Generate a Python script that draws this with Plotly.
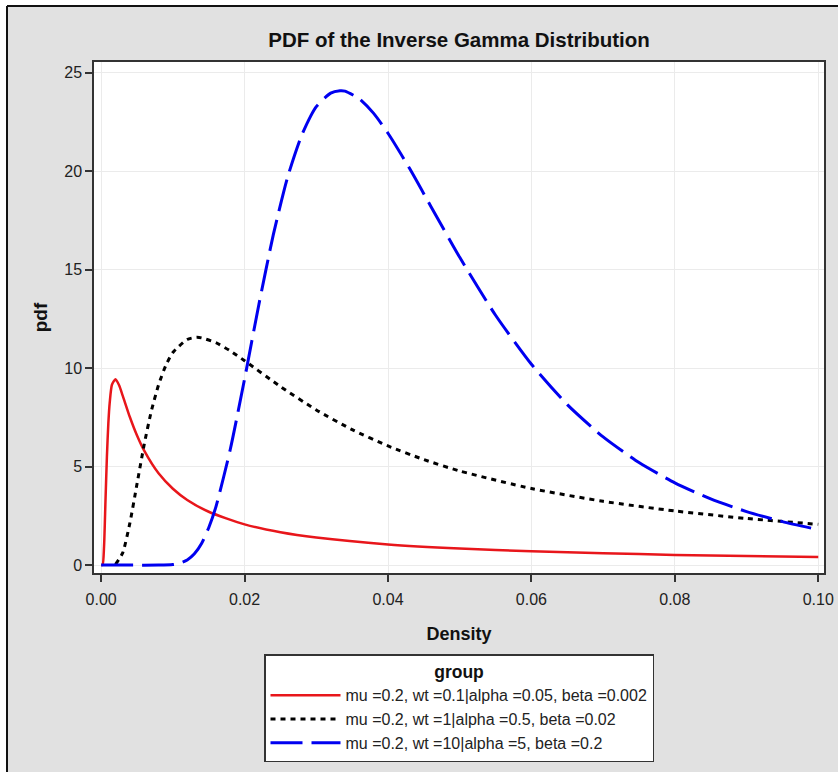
import plotly.graph_objects as go

# ---- data ----
red_x = [0.0, 0.0002, 0.0004, 0.0006, 0.0008, 0.001, 0.0012, 0.0015, 0.002, 0.0025,
         0.003, 0.004, 0.005, 0.006, 0.008, 0.010, 0.012, 0.015, 0.020, 0.025,
         0.030, 0.040, 0.050, 0.060, 0.070, 0.080, 0.090, 0.100]
red_y = [0.0, 0.013, 0.94, 3.24, 5.52, 7.20, 8.29, 9.16, 9.44, 9.13,
         8.61, 7.52, 6.58, 5.81, 4.66, 3.88, 3.31, 2.71, 2.07, 1.67,
         1.40, 1.05, 0.84, 0.70, 0.60, 0.52, 0.46, 0.41]

black_x = [0.002, 0.003, 0.004, 0.005, 0.006, 0.007, 0.008, 0.009, 0.010, 0.012,
           0.0133, 0.014, 0.016, 0.018, 0.020, 0.025, 0.030, 0.035, 0.040, 0.045,
           0.050, 0.060, 0.070, 0.080, 0.090, 0.100]
black_y = [0.04, 0.62, 2.13, 4.13, 6.13, 7.83, 9.15, 10.13, 10.80, 11.46,
           11.57, 11.54, 11.30, 10.88, 10.38, 9.07, 7.88, 6.88, 6.05, 5.36,
           4.78, 3.89, 3.24, 2.75, 2.37, 2.07]

blue_x = [0.0, 0.004, 0.008, 0.010, 0.011, 0.012, 0.013, 0.014, 0.015, 0.016,
          0.018, 0.020, 0.022, 0.024, 0.026, 0.028, 0.030, 0.032, 0.0333, 0.034,
          0.036, 0.038, 0.040, 0.043, 0.046, 0.050, 0.055, 0.060, 0.065, 0.070,
          0.075, 0.080, 0.085, 0.090, 0.095, 0.100]
blue_y = [0.0, 0.0, 0.001, 0.027, 0.096, 0.257, 0.573, 1.10, 1.90, 2.96,
          5.87, 9.46, 13.25, 16.77, 19.70, 21.86, 23.28, 23.97, 24.09, 24.07,
          23.68, 22.94, 21.93, 20.15, 18.20, 15.63, 12.69, 10.20, 8.15, 6.51,
          5.21, 4.18, 3.36, 2.72, 2.21, 1.80]

labels = ["mu =0.2, wt =0.1|alpha =0.05, beta =0.002",
          "mu =0.2, wt =1|alpha =0.5, beta =0.02",
          "mu =0.2, wt =10|alpha =5, beta =0.2"]

x_ticks = [0.0, 0.02, 0.04, 0.06, 0.08, 0.10]
x_ticktext = ["0.00", "0.02", "0.04", "0.06", "0.08", "0.10"]
y_ticks = [0, 5, 10, 15, 20, 25]

FONT = "Liberation Sans, Arial, sans-serif"

fig = go.Figure()
fig.add_trace(go.Scatter(x=red_x, y=red_y, mode="lines", name=labels[0],
                         line=dict(color="#e8161b", width=2.5, shape="spline", smoothing=0.6)))
fig.add_trace(go.Scatter(x=black_x, y=black_y, mode="lines", name=labels[1],
                         line=dict(color="#000000", width=3, dash="5px,5px", shape="spline", smoothing=0.6)))
fig.add_trace(go.Scatter(x=blue_x, y=blue_y, mode="lines", name=labels[2],
                         line=dict(color="#0000f0", width=3, dash="32px,9px", shape="spline", smoothing=0.6)))

L, R, T, B = 94, 824, 62, 573
W, H = 838, 772
pw, ph = R - L, B - T

def px(xp):
    return (xp - L) / pw

def py(yp):
    return (B - yp) / ph

fig.update_layout(
    width=W, height=H,
    margin=dict(l=L, r=W - R, t=T, b=H - B, pad=0, autoexpand=False),
    paper_bgcolor="#e1e1e1",
    plot_bgcolor="white",
    font=dict(family=FONT, size=16, color="#222222"),
    title=dict(text="<b>PDF of the Inverse Gamma Distribution</b>",
               xref="container", x=459 / W, xanchor="center", y=1 - 40 / H, yanchor="middle",
               font=dict(family=FONT, size=20.5, color="#111111")),
    showlegend=True,
    legend=dict(
        title=dict(text="<b>group</b>", side="top center",
                   font=dict(family=FONT, size=17.5, color="#111111")),
        orientation="v",
        x=px(459), xanchor="center",
        y=py(654), yanchor="top",
        bgcolor="white", bordercolor="#333333", borderwidth=1.5,
        font=dict(family=FONT, size=16, color="#222222"),
        itemwidth=70, tracegroupgap=0,
    ),
    xaxis=dict(
        range=[-0.001, 0.1008], automargin=False,
        tickvals=x_ticks, ticktext=x_ticktext,
        ticks="outside", ticklen=7, tickcolor="#333333", tickwidth=1.5,
        ticklabelstandoff=4,
        showline=True, linecolor="#333333", linewidth=1.5, mirror=True,
        showgrid=True, gridcolor="#ebebeb", gridwidth=1, zeroline=False,
        title=dict(text="<b>Density</b>", standoff=20,
                   font=dict(family=FONT, size=18, color="#111111")),
        tickfont=dict(family=FONT, size=16, color="#222222"),
    ),
    yaxis=dict(
        range=[-0.4, 25.55], automargin=False,
        tickvals=y_ticks,
        ticks="outside", ticklen=7, tickcolor="#333333", tickwidth=1.5,
        showline=True, linecolor="#333333", linewidth=1.5, mirror=True,
        showgrid=True, gridcolor="#ebebeb", gridwidth=1, zeroline=False,
        title=dict(text="<b>pdf</b>", standoff=12,
                   font=dict(family=FONT, size=19, color="#111111")),
        tickfont=dict(family=FONT, size=16, color="#222222"),
    ),
    shapes=[
        dict(type="rect", xref="paper", yref="paper", x0=px(-5), x1=px(7), y0=py(H + 5), y1=py(-5),
             fillcolor="white", line=dict(width=0), layer="above"),
        dict(type="rect", xref="paper", yref="paper", x0=px(-5), x1=px(W + 5), y0=py(6), y1=py(-5),
             fillcolor="white", line=dict(width=0), layer="above"),
        dict(type="line", xref="paper", yref="paper", x0=px(7), x1=px(7), y0=py(6), y1=py(H + 5),
             line=dict(color="#111111", width=2)),
        dict(type="line", xref="paper", yref="paper", x0=px(7), x1=px(W + 5), y0=py(6), y1=py(6),
             line=dict(color="#111111", width=2)),
    ],
)

fig.write_html("out.html")
